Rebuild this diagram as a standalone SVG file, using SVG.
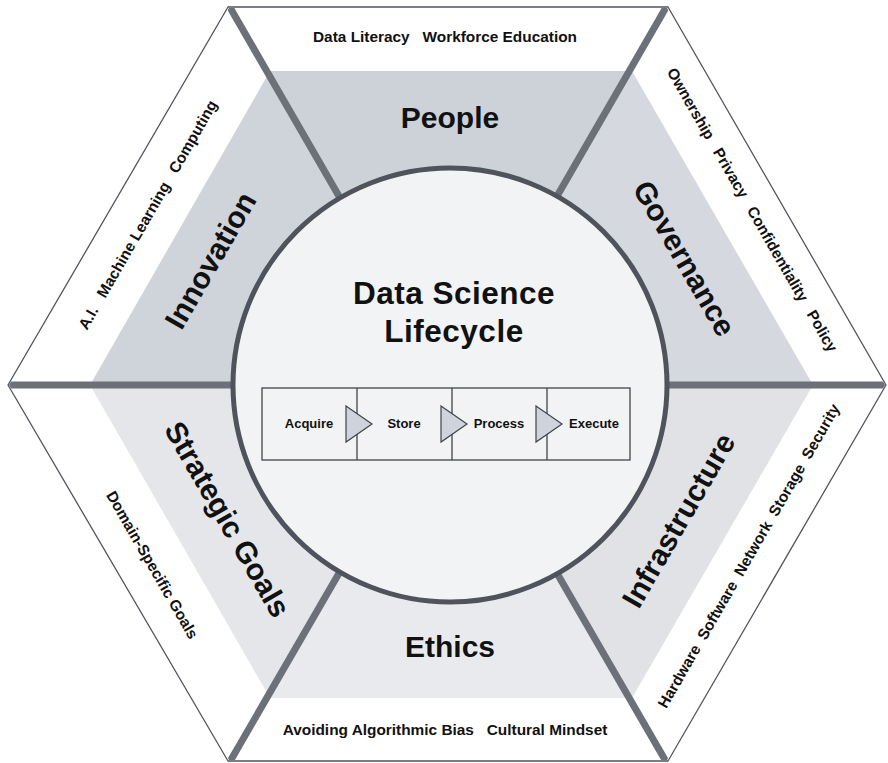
<svg xmlns="http://www.w3.org/2000/svg" width="888" height="763" viewBox="0 0 888 763">
  <style>
    text { font-family: "Liberation Sans", Arial, sans-serif; font-weight: bold; fill: #111; }
    .big { font-size: 30px; text-anchor: middle; }
    .title { font-size: 31.5px; letter-spacing: 0.5px; text-anchor: middle; }
    .item { font-size: 15.4px; text-anchor: middle; }
    .step { font-size: 13px; text-anchor: middle; }
    .divider { stroke: #6b7079; stroke-width: 7; fill: none; }
    .arrow { fill: #cfd4dc; stroke: #3f444b; stroke-width: 1.2; stroke-linejoin: miter; }
  </style>
  <defs>
    <clipPath id="hexClip">
      <polygon points="9,385 229,8 667,8 885,385 667,760 229,760"/>
    </clipPath>
  </defs>

  <!-- outer hexagon -->
  <polygon points="8,385 228,7 668,7 886,385 668,761 228,761" fill="#ffffff" stroke="#50555c" stroke-width="1.3" stroke-linejoin="round"/>

  <!-- shaded wedges of the inner hexagon -->
  <g id="wedges">
    <polygon id="wedge-people" points="450,385 270,71 632,71" fill="#cdd2d9"/>
    <polygon id="wedge-governance" points="450,385 632,71 813,385" fill="#d5d8de"/>
    <polygon id="wedge-infrastructure" points="450,385 813,385 632,698" fill="#e0e2e6"/>
    <polygon id="wedge-ethics" points="450,385 632,698 270,698" fill="#e8eaed"/>
    <polygon id="wedge-strategic" points="450,385 270,698 90,385" fill="#e4e6ea"/>
    <polygon id="wedge-innovation" points="450,385 90,385 270,71" fill="#cfd3da"/>
  </g>

  <!-- spokes between the sectors -->
  <g id="connectors" clip-path="url(#hexClip)">
    <line class="divider" x1="448" y1="385" x2="228" y2="4"/>
    <line class="divider" x1="448" y1="385" x2="668" y2="4"/>
    <line class="divider" x1="448" y1="385" x2="890" y2="385"/>
    <line class="divider" x1="448" y1="385" x2="668" y2="765"/>
    <line class="divider" x1="448" y1="385" x2="228" y2="765"/>
    <line class="divider" x1="448" y1="385" x2="4" y2="385"/>
  </g>

  <g id="people">
    <text class="item" x="445" y="42" xml:space="preserve">Data Literacy   Workforce Education</text>
    <text class="big" x="450" y="128">People</text>
  </g>

  <g id="governance">
    <text class="big" transform="translate(685,258) rotate(60)" y="11">Governance</text>
    <text class="item" transform="translate(752,210) rotate(60)" y="5" xml:space="preserve">Ownership   Privacy   Confidentiality   Policy</text>
  </g>

  <g id="infrastructure">
    <text class="big" transform="translate(678,520) rotate(-60)" y="11">Infrastructure</text>
    <text class="item" transform="translate(749,556) rotate(-60)" y="5" xml:space="preserve">Hardware  Software  Network  Storage  Security</text>
  </g>

  <g id="ethics">
    <text class="big" x="450" y="657">Ethics</text>
    <text class="item" x="445" y="735" xml:space="preserve">Avoiding Algorithmic Bias   Cultural Mindset</text>
  </g>

  <g id="strategic-goals">
    <text class="big" transform="translate(228,519) rotate(60)" y="11">Strategic Goals</text>
    <text class="item" transform="translate(152,565) rotate(60)" y="5">Domain-Specific Goals</text>
  </g>

  <g id="innovation">
    <text class="big" transform="translate(210,260) rotate(-60)" y="11">Innovation</text>
    <text class="item" transform="translate(148,215) rotate(-60)" y="5" xml:space="preserve">A.I.   Machine Learning   Computing</text>
  </g>

  <!-- central lifecycle disc -->
  <g id="lifecycle">
    <circle cx="450" cy="385" r="217" fill="#f2f3f5" stroke="#4f545c" stroke-width="5"/>
    <text class="title" x="454" y="304">Data Science</text>
    <text class="title" x="454" y="342">Lifecycle</text>
  </g>

  <g id="pipeline">
    <rect x="262" y="388" width="368" height="72" fill="#f2f3f5" stroke="#3f444b" stroke-width="1.3"/>
    <line x1="357" y1="388" x2="357" y2="460" stroke="#3f444b" stroke-width="1.3"/>
    <line x1="452" y1="388" x2="452" y2="460" stroke="#3f444b" stroke-width="1.3"/>
    <line x1="547" y1="388" x2="547" y2="460" stroke="#3f444b" stroke-width="1.3"/>
  </g>

  <g id="step-acquire">
    <text class="step" x="309" y="428">Acquire</text>
  </g>
  <g id="step-store">
    <text class="step" x="404" y="428">Store</text>
  </g>
  <g id="step-process">
    <text class="step" x="499" y="428">Process</text>
  </g>
  <g id="step-execute">
    <text class="step" x="594" y="428">Execute</text>
  </g>

  <g id="flow-arrows">
    <polygon class="arrow" points="346,406 372,424 346,442"/>
    <polygon class="arrow" points="441,406 467,424 441,442"/>
    <polygon class="arrow" points="536,406 562,424 536,442"/>
  </g>
</svg>
